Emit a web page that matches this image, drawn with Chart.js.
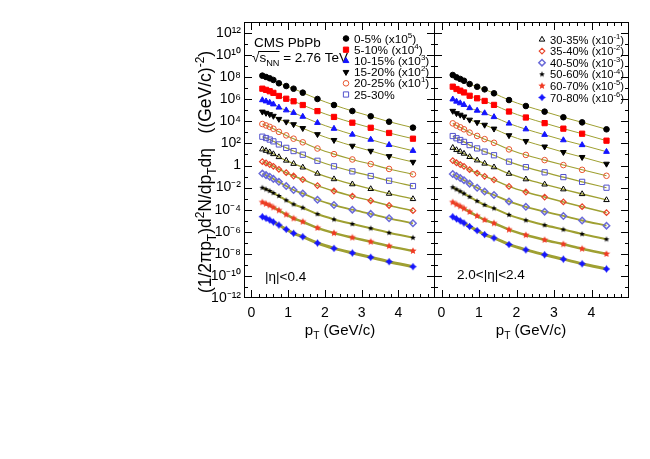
<!DOCTYPE html>
<html>
<head>
<meta charset="utf-8">
<script src="https://cdn.jsdelivr.net/npm/chart.js@4.4.1/dist/chart.umd.min.js"></script>
<style>
  html, body { margin: 0; padding: 0; background: #fff; }
  #wrap { position: relative; width: 650px; height: 459px; }
  #midCanvas { position: absolute; left: 0; top: 0; }
  #fwdCanvas { position: absolute; left: 434px; top: 0; }
</style>
</head>
<body>
<div id="wrap">
  <canvas id="midCanvas" width="435" height="459"></canvas>
  <canvas id="fwdCanvas" width="216" height="459"></canvas>
</div>
<script>
// pT bin centres (GeV/c)
const ptBins = [0.3, 0.4, 0.5, 0.6, 0.75, 0.95, 1.15, 1.4, 1.8, 2.25, 2.75, 3.25, 3.75, 4.4];

const centralityClasses = ["0-5%", "5-10%", "10-15%", "15-20%", "20-25%", "25-30%",
  "30-35%", "35-40%", "40-50%", "50-60%", "60-70%", "70-80%"];
// scale factor exponent shown in the legend (null = not scaled)
const scaleExponents = [5, 4, 3, 2, 1, null, -1, -2, -3, -4, -5, -6];

const xTicks = [0, 1, 2, 3, 4];
const yTickPowers = [-12, -10, -8, -6, -4, -2, 0, 2, 4, 6, 8, 10, 12];

// spectra, stored as powers of ten (one row per centrality class)
const log10YieldEta04 = [
  [8.14, 8.02, 7.90, 7.75, 7.45, 7.20, 6.96, 6.60, 6.03, 5.48, 4.94, 4.46, 3.97, 3.43],
  [6.96, 6.85, 6.73, 6.58, 6.30, 6.05, 5.82, 5.48, 4.93, 4.40, 3.88, 3.42, 2.95, 2.43],
  [5.93, 5.82, 5.70, 5.55, 5.26, 5.01, 4.78, 4.43, 3.87, 3.34, 2.81, 2.35, 1.87, 1.34],
  [4.87, 4.76, 4.64, 4.49, 4.21, 3.96, 3.73, 3.38, 2.83, 2.30, 1.78, 1.32, 0.84, 0.32],
  [3.76, 3.63, 3.50, 3.33, 3.05, 2.73, 2.43, 2.10, 1.54, 1.03, 0.55, 0.13, -0.31, -0.80],
  [2.61, 2.49, 2.35, 2.19, 1.91, 1.60, 1.31, 0.98, 0.43, -0.07, -0.53, -0.95, -1.38, -1.86],
  [1.47, 1.34, 1.21, 1.04, 0.77, 0.45, 0.16, -0.17, -0.73, -1.23, -1.69, -2.12, -2.55, -3.03],
  [0.35, 0.23, 0.09, -0.07, -0.34, -0.65, -0.95, -1.27, -1.82, -2.31, -2.77, -3.19, -3.62, -4.09],
  [-0.73, -0.87, -1.02, -1.21, -1.48, -1.86, -2.22, -2.53, -3.10, -3.58, -4.00, -4.38, -4.78, -5.23],
  [-2.01, -2.15, -2.30, -2.49, -2.76, -3.15, -3.51, -3.82, -4.40, -4.88, -5.30, -5.69, -6.09, -6.54],
  [-3.33, -3.47, -3.61, -3.80, -4.06, -4.44, -4.79, -5.09, -5.65, -6.12, -6.53, -6.91, -7.30, -7.74],
  [-4.64, -4.78, -4.93, -5.12, -5.39, -5.78, -6.14, -6.45, -7.02, -7.50, -7.92, -8.31, -8.71, -9.16],
];

const log10YieldEta24 = [
  [8.20, 7.99, 7.84, 7.68, 7.38, 7.14, 6.90, 6.54, 5.93, 5.39, 4.88, 4.37, 3.91, 3.28],
  [7.14, 6.93, 6.78, 6.62, 6.32, 6.09, 5.85, 5.49, 4.89, 4.35, 3.84, 3.34, 2.88, 2.25],
  [6.00, 5.80, 5.65, 5.50, 5.21, 4.98, 4.75, 4.40, 3.81, 3.29, 2.79, 2.30, 1.86, 1.25],
  [4.94, 4.73, 4.59, 4.43, 4.14, 3.91, 3.68, 3.33, 2.73, 2.21, 1.71, 1.21, 0.76, 0.15],
  [3.82, 3.62, 3.46, 3.28, 2.98, 2.68, 2.39, 2.06, 1.46, 0.96, 0.49, 0.04, -0.39, -0.93],
  [2.67, 2.47, 2.31, 2.14, 1.85, 1.55, 1.26, 0.93, 0.35, -0.15, -0.62, -1.05, -1.48, -2.01],
  [1.61, 1.41, 1.25, 1.08, 0.78, 0.47, 0.18, -0.15, -0.74, -1.24, -1.71, -2.15, -2.58, -3.12],
  [0.45, 0.25, 0.09, -0.08, -0.38, -0.68, -0.98, -1.30, -1.89, -2.40, -2.86, -3.30, -3.73, -4.27],
  [-0.77, -0.96, -1.14, -1.33, -1.64, -2.01, -2.36, -2.67, -3.25, -3.74, -4.18, -4.57, -4.98, -5.45],
  [-1.97, -2.16, -2.34, -2.54, -2.84, -3.22, -3.57, -3.88, -4.47, -4.96, -5.40, -5.80, -6.21, -6.68],
  [-3.33, -3.52, -3.70, -3.89, -4.20, -4.57, -4.92, -5.23, -5.81, -6.30, -6.74, -7.13, -7.54, -8.01],
  [-4.64, -4.83, -5.01, -5.21, -5.52, -5.89, -6.25, -6.56, -7.15, -7.64, -8.08, -8.48, -8.90, -9.37],
];

const FONT = '"Liberation Sans", Arial, Helvetica, sans-serif';

function starMarker(color, r) {
  const c = document.createElement("canvas");
  c.width = c.height = Math.ceil(2 * r + 2);
  const g = c.getContext("2d");
  g.fillStyle = color;
  g.beginPath();
  for (let i = 0; i < 10; i++) {
    const rr = i % 2 ? r * 0.45 : r;
    const a = -Math.PI / 2 + (i * Math.PI) / 5;
    g.lineTo(c.width / 2 + rr * Math.cos(a), c.height / 2 + rr * Math.sin(a));
  }
  g.closePath();
  g.fill();
  return c;
}

function plusMarker(color, r) {
  const c = document.createElement("canvas");
  c.width = c.height = Math.ceil(2 * r + 1);
  const g = c.getContext("2d");
  const m = c.width / 2, t = r * 0.42;
  g.fillStyle = color;
  g.beginPath();
  g.moveTo(m, m - r); g.lineTo(m + t, m - t); g.lineTo(m + r, m); g.lineTo(m + t, m + t);
  g.lineTo(m, m + r); g.lineTo(m - t, m + t); g.lineTo(m - r, m); g.lineTo(m - t, m - t);
  g.closePath();
  g.fill();
  return c;
}

const NONE = "rgba(0,0,0,0)";
const markerStyles = [
  { pointStyle: "circle", radius: 2.8, bg: "#000", border: "#000", bw: 1 },
  { pointStyle: "rect", radius: 3.7, bg: "#ff0000", border: "#ff0000", bw: 1 },
  { pointStyle: "triangle", radius: 3.3, bg: "#1414ff", border: "#1414ff", bw: 1 },
  { pointStyle: "triangle", radius: 3.3, bg: "#000", border: "#000", bw: 1, rot: 180 },
  { pointStyle: "circle", radius: 2.8, bg: NONE, border: "#e8552e", bw: 1 },
  { pointStyle: "rect", radius: 3.7, bg: NONE, border: "#5252cc", bw: 1 },
  { pointStyle: "triangle", radius: 3.2, bg: NONE, border: "#000", bw: 1 },
  { pointStyle: "rectRot", radius: 2.8, bg: NONE, border: "#e8452a", bw: 1.2 },
  { pointStyle: "rectRot", radius: 3.2, bg: NONE, border: "#6a6ad8", bw: 1.5 },
  { pointStyle: starMarker("#000", 3.0), radius: 3.0, bg: "#000", border: "#000", bw: 0 },
  { pointStyle: starMarker("#f03a24", 3.8), radius: 3.8, bg: "#f03a24", border: "#f03a24", bw: 0 },
  { pointStyle: plusMarker("#1414ff", 3.8), radius: 3.8, bg: "#1414ff", border: "#1414ff", bw: 0 },
];
const fitWidths = [1, 1, 1, 1, 1.1, 1.2, 1.3, 1.5, 1.8, 2.1, 2.5, 3];

function buildDatasets(rows) {
  const sets = [];
  rows.forEach((row, k) => {
    const pts = ptBins.map((pt, i) => ({ x: pt, y: Math.pow(10, row[i]) }));
    const m = markerStyles[k];
    sets.push({
      label: centralityClasses[k], data: pts, showLine: false, order: 0,
      pointStyle: m.pointStyle, pointRadius: m.radius, pointRotation: m.rot || 0,
      pointBackgroundColor: m.bg, pointBorderColor: m.border, pointBorderWidth: m.bw,
    });
    sets.push({
      label: "fit " + centralityClasses[k], data: pts, showLine: true, order: 1,
      pointRadius: 0, borderColor: "#9fa032", borderWidth: fitWidths[k],
      cubicInterpolationMode: "monotone",
    });
  });
  return sets;
}

function richText(ctx, parts, x, y, size, align) {
  const fontFor = (p) => (p[1] ? size * 0.68 : size) + "px " + FONT;
  const widths = parts.map((p) => { ctx.font = fontFor(p); return ctx.measureText(p[0]).width; });
  const total = widths.reduce((a, b) => a + b, 0);
  let cx = align === "center" ? x - total / 2 : align === "right" ? x - total : x;
  ctx.textAlign = "left";
  ctx.textBaseline = "alphabetic";
  parts.forEach((p, i) => {
    ctx.font = fontFor(p);
    const dy = p[1] === 1 ? -size * 0.42 : p[1] === -1 ? size * 0.28 : 0;
    ctx.fillText(p[0], cx, y + dy);
    cx += widths[i];
  });
  return total;
}

function supLabel(v) {
  const e = Math.round(Math.log10(v));
  if (e === 0) return "1";
  const map = { "-": "\u207B", 0: "\u2070", 1: "\u00B9", 2: "\u00B2", 3: "\u00B3", 4: "\u2074",
    5: "\u2075", 6: "\u2076", 7: "\u2077", 8: "\u2078", 9: "\u2079" };
  return "10" + String(e).split("").map((c) => map[c]).join("");
}

function drawLegend(ctx, first, x, y0, step, size) {
  for (let k = first; k < first + 6; k++) {
    const m = markerStyles[k];
    const y = y0 + (k - first) * step;
    ctx.save();
    ctx.fillStyle = m.bg;
    ctx.strokeStyle = m.border;
    ctx.lineWidth = m.bw;
    Chart.helpers.drawPoint(ctx, { pointStyle: m.pointStyle, radius: m.radius,
      rotation: m.rot || 0, borderWidth: m.bw }, x, y);
    ctx.restore();
    ctx.fillStyle = "#000";
    const e = scaleExponents[k];
    const parts = e === null ? [[centralityClasses[k], 0]]
      : [[centralityClasses[k] + " (x10", 0], [String(e), 1], [")", 0]];
    richText(ctx, parts, x + 8, y + 4, size, "left");
  }
}

// ROOT-like frame with inside tick marks on all four sides
const frameTicks = {
  id: "frameTicks",
  afterDraw(chart) {
    const { ctx, chartArea: a, scales } = chart;
    const xs = scales.x, ys = scales.y;
    ctx.save();
    ctx.strokeStyle = "#000";
    ctx.lineWidth = 1;
    ctx.strokeRect(a.left + 0.5, a.top + 0.5, a.right - a.left - 1, a.bottom - a.top - 1);
    ctx.beginPath();
    for (let i = 0; i <= 25; i++) {
      const px = Math.round(xs.getPixelForValue(i / 5)) + 0.5;
      if (px <= a.left + 1 || px >= a.right - 1) continue;
      const len = i % 5 === 0 ? 8 : 4;
      ctx.moveTo(px, a.bottom); ctx.lineTo(px, a.bottom - len);
      ctx.moveTo(px, a.top); ctx.lineTo(px, a.top + len);
    }
    for (let e = -11; e <= 12; e++) {
      const py = Math.round(ys.getPixelForValue(Math.pow(10, e))) + 0.5;
      const len = e % 2 === 0 ? 8 : 4;
      ctx.moveTo(a.left, py); ctx.lineTo(a.left + len, py);
      ctx.moveTo(a.right, py); ctx.lineTo(a.right - len, py);
    }
    ctx.stroke();
    ctx.restore();
  },
};

const midTexts = {
  id: "midTexts",
  afterDraw(chart) {
    const ctx = chart.ctx;
    ctx.save();
    ctx.fillStyle = "#000";
    richText(ctx, [["CMS PbPb", 0]], 254, 47, 13.5, "left");
    ctx.font = "13.5px " + FONT;
    ctx.textAlign = "left";
    ctx.fillText("\u221A", 252, 62);
    const rw = ctx.measureText("\u221A").width;
    const w1 = richText(ctx, [["s", 0], ["NN", -1]], 252 + rw, 62, 13.5, "left");
    richText(ctx, [[" = 2.76 TeV", 0]], 252 + rw + w1, 62, 13.5, "left");
    ctx.strokeStyle = "#000";
    ctx.lineWidth = 1;
    ctx.beginPath();
    ctx.moveTo(252 + rw - 1, 51.5); ctx.lineTo(252 + rw + w1, 51.5);
    ctx.stroke();
    drawLegend(ctx, 0, 346, 38.5, 11.2, 11.8);
    richText(ctx, [["|\u03B7|<0.4", 0]], 265, 281, 13.5, "left");
    // axis titles
    richText(ctx, [["p", 0], ["T", -1], [" (GeV/c)", 0]], 340, 335, 15, "center");
    ctx.translate(211, 172);
    ctx.rotate(-Math.PI / 2);
    richText(ctx, [["(1/2\u03C0p", 0], ["T", -1], [")d", 0], ["2", 1], ["N/dp", 0], ["T", -1],
      ["d\u03B7   ((GeV/c)", 0], ["-2", 1], [")", 0]], 0, 0, 17.5, "center");
    ctx.restore();
  },
};

const fwdTexts = {
  id: "fwdTexts",
  afterDraw(chart) {
    const ctx = chart.ctx;
    ctx.save();
    ctx.fillStyle = "#000";
    drawLegend(ctx, 6, 108, 39.5, 11.6, 11.2);
    richText(ctx, [["2.0<|\u03B7|<2.4", 0]], 23, 279, 13.5, "left");
    richText(ctx, [["p", 0], ["T", -1], [" (GeV/c)", 0]], 97, 335, 15, "center");
    ctx.restore();
  },
};

function makeChart(canvasId, rows, showY, textPlugin) {
  return new Chart(document.getElementById(canvasId), {
    type: "scatter",
    data: { datasets: buildDatasets(rows) },
    options: {
      responsive: false,
      animation: false,
      layout: { autoPadding: false, padding: { top: 22, right: showY ? 0 : 21, left: 0, bottom: 0 } },
      plugins: { legend: { display: false }, tooltip: { enabled: false } },
      scales: {
        x: {
          type: "linear", min: -0.2, max: 5.0,
          grid: { display: false, drawTicks: false }, border: { display: false },
          afterBuildTicks: (s) => { s.ticks = xTicks.map((v) => ({ value: v })); },
          afterFit: (s) => { s.height = 161; s.paddingLeft = 0; s.paddingRight = 0; },
          ticks: { autoSkip: false, maxRotation: 0, padding: 7, color: "#000",
            font: { family: FONT, size: 14 } },
        },
        y: {
          type: "logarithmic", min: 1e-12, max: 1e13, display: showY,
          grid: { display: false, drawTicks: false }, border: { display: false },
          afterBuildTicks: (s) => { s.ticks = yTickPowers.map((p) => ({ value: Math.pow(10, p) })); },
          afterFit: (s) => { s.width = showY ? 244 : 0; s.paddingTop = 0; s.paddingBottom = 0; },
          ticks: { padding: 3, color: "#000", font: { family: FONT, size: 14 },
            callback: (v) => supLabel(v) },
        },
      },
    },
    plugins: [frameTicks, textPlugin],
  });
}

makeChart("midCanvas", log10YieldEta04, true, midTexts);
makeChart("fwdCanvas", log10YieldEta24, false, fwdTexts);
</script>
</body>
</html>
